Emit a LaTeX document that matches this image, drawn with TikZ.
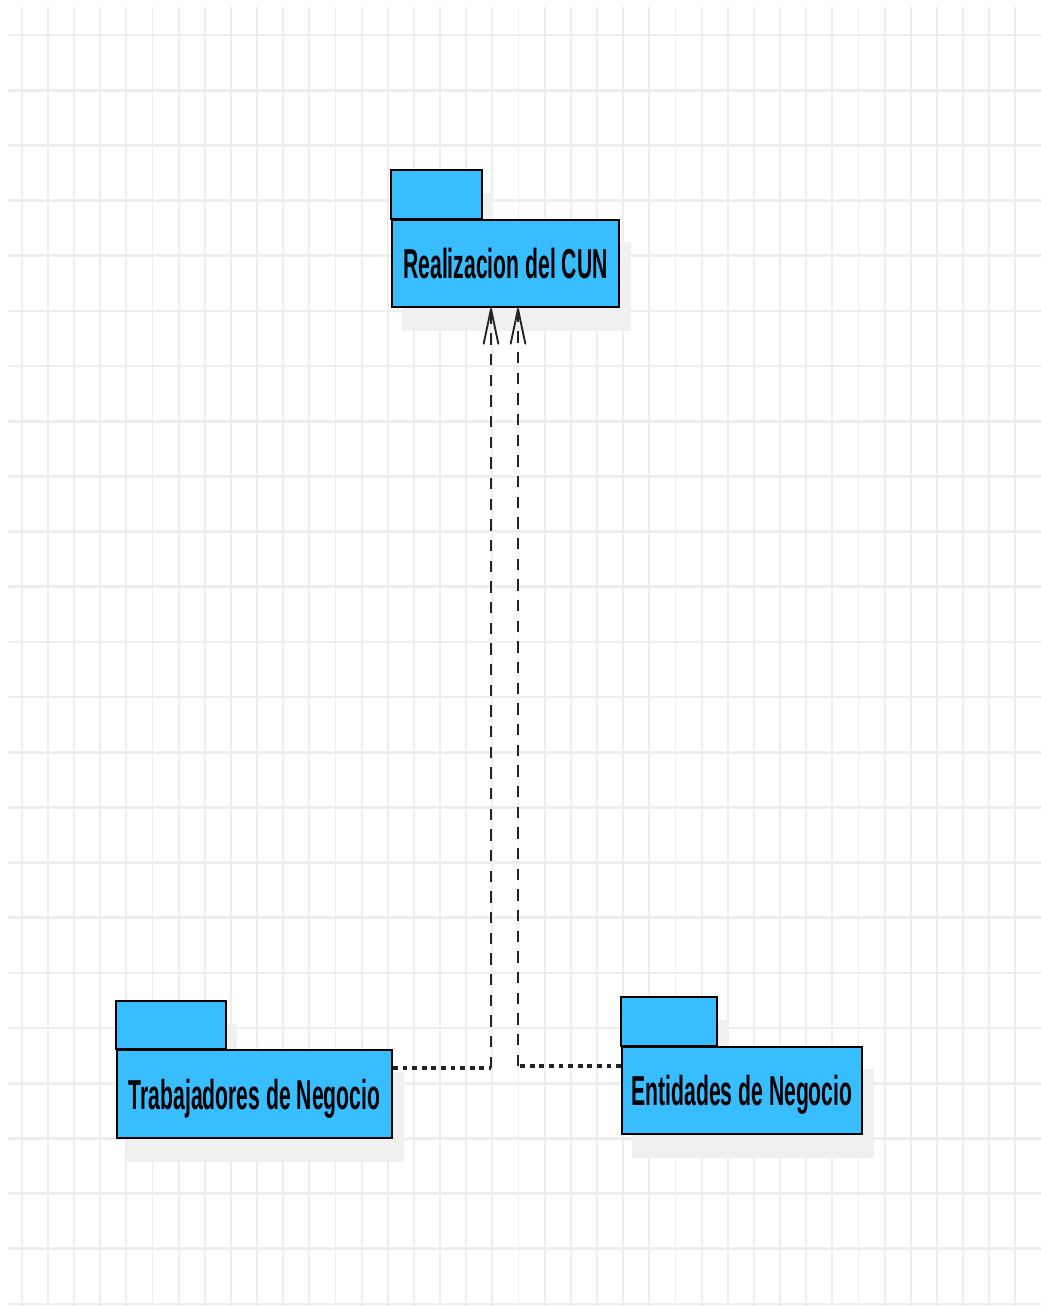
\documentclass[tikz,border=0pt]{standalone}
\usepackage{fontspec}
\setmainfont{Liberation Sans}
\usetikzlibrary{arrows.meta,backgrounds}
\definecolor{pkgblue}{RGB}{56,189,255}
\definecolor{gridc}{RGB}{238,238,238}
\definecolor{shadowc}{RGB}{240,240,240}
\definecolor{linkc}{RGB}{35,35,35}
\newcommand\pxu{0.75pt}
\newcommand\pkgtext[1]{\scalebox{0.505}[1]{\fontsize{31.4}{36}\selectfont\bfseries #1}}
\tikzset{
  pkgbody/.style={draw=black, line width=1.6pt, fill=pkgblue, inner sep=0pt,
    text height=22.5pt, text depth=0pt, align=center},
  pkgtab/.style={draw=black, line width=1.6pt, fill=pkgblue},
  pkgshadow/.style={fill=shadowc},
  hlink/.style={draw=linkc, line width=2.5pt, dash pattern=on 3.6pt off 3.6pt},
  vlink/.style={draw=linkc, line width=1.5pt, dash pattern=on 8.5pt off 7pt},
  vtip/.style={-{Straight Barb[length=26pt, width=11pt, line width=1.4pt, round]}},
}
\begin{document}
\begin{tikzpicture}[x=0.75pt, y=-0.75pt]
\useasboundingbox (0,0) rectangle (1041,1306);

% package bodies
\node[pkgbody, minimum width=227*\pxu, minimum height=87*\pxu] (cun) at (505.5,263.5) {\pkgtext{Realizacion del CUN}};
\node[pkgbody, minimum width=275*\pxu, minimum height=88*\pxu] (trab) at (254.5,1094) {\pkgtext{Trabajadores de Negocio}};
\node[pkgbody, minimum width=240*\pxu, minimum height=87*\pxu] (ent) at (742,1090.5) {\pkgtext{Entidades de Negocio}};

% package tabs
\draw[pkgtab] (cun.north west) rectangle ++(91,-49);
\draw[pkgtab] (trab.north west) rectangle ++(110,-48);
\draw[pkgtab] (ent.north west) rectangle ++(96,-49);

\begin{pgfonlayer}{background}
  \fill[white] (0,0) rectangle (1041,1306);
  % drawing grid
  \foreach \k in {0,...,39} {
    \draw[gridc, line width=1.4pt] ({21.7+26.15*\k},7) -- ({21.7+26.15*\k},1306);
  }
  \foreach \k in {0,...,23} {
    \draw[gridc, line width=2pt] (8,{35+55.17*\k}) -- (1041,{35+55.17*\k});
  }
  % drop shadows
  \foreach \n/\tw/\th in {cun/91/49, trab/110/48, ent/96/49} {
    \fill[pkgshadow] ([shift={(11,23)}]\n.north west) rectangle ([shift={(11,23)}]\n.south east);
    \fill[pkgshadow] ([shift={(11,23)}]\n.north west) rectangle ++(\tw,-\th);
  }
\end{pgfonlayer}

% dependencies
\coordinate (tbend) at (491,1068);
\coordinate (ebend) at (518,1066);
\draw[hlink] (trab.east |- tbend) -- (tbend);
\draw[vlink, vtip] (tbend) -- (tbend |- cun.south);
\draw[hlink] (ent.west |- ebend) -- (ebend);
\draw[vlink, vtip] (ebend) -- (ebend |- cun.south);
\end{tikzpicture}
\end{document}
